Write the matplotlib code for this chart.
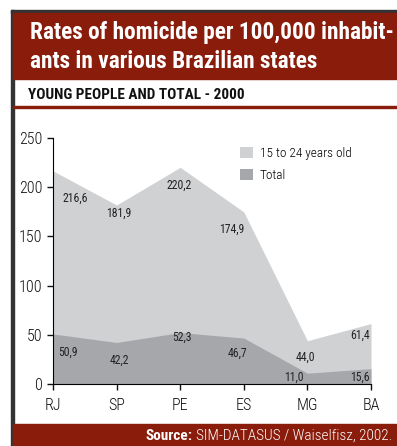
import matplotlib
matplotlib.use("Agg")
import matplotlib.pyplot as plt
from matplotlib.patches import Rectangle

# homicide rates per 100,000 inhabitants, year 2000
states = ["RJ", "SP", "PE", "ES", "MG", "BA"]
young = [216.6, 181.9, 220.2, 174.9, 44.0, 61.4]
total = [50.9, 42.2, 52.3, 46.7, 11.0, 15.6]
yticks = [0, 50, 100, 150, 200, 250]

# label offsets in points (dx, dy) from each point, text anchored left
young_off = [(6.5, -19.4), (-7.6, -5.8), (-10, -13), (-18, -12.2), (-8.6, -12.2), (-15, -8.6)]
total_off = [(3.6, -13), (-4.8, -12.6), (-5.8, -3.2), (-11.4, -10.8), (-16.8, -2.9), (-15, -6.1)]

W, H = 397, 446
light = "#d0d1d3"
dark = "#a6a7aa"
red = "#8a1c0b"
plt.rcParams["font.family"] = ["Roboto Condensed", "DejaVu Sans"]

fig = plt.figure(figsize=(W / 100, H / 100), dpi=100)
renderer = fig.canvas.get_renderer()

def px(x, y):
    return x / W, 1 - y / H

def fit(txt, width):
    # shrink/grow the font so the text spans the given pixel width
    w = txt.get_window_extent(renderer).width
    txt.set_fontsize(txt.get_fontsize() * width / w)

# frame, title band, sub-header and footer
fig.patches.append(Rectangle(px(11, H), 2.5 / W, (H - 10) / H, transform=fig.transFigure, color="#333333"))
fig.patches.append(Rectangle(px(11, 13), 1, 3 / H, transform=fig.transFigure, color="#333333"))
fig.patches.append(Rectangle(px(13, 79), 1, 66 / H, transform=fig.transFigure, color=red))
fig.patches.append(Rectangle(px(13, 108), 1, 1.8 / H, transform=fig.transFigure, color=red))
fig.patches.append(Rectangle(px(13, H), 1, 22 / H, transform=fig.transFigure, color=red))

t1 = fig.text(*px(30, 33), "Rates of homicide per 100,000 inhabit-", color="white",
              fontsize=17, fontweight="bold", va="center", ha="left")
fit(t1, 364)
t2 = fig.text(*px(30, 62), "ants in various Brazilian states", color="white",
              fontsize=t1.get_fontsize(), fontweight="bold", va="center", ha="left")
t3 = fig.text(*px(28, 95), "YOUNG PEOPLE AND TOTAL - 2000", color="#111111",
              fontsize=11, fontweight="bold", va="center", ha="left")
fit(t3, 217)

src = fig.text(*px(392, 436), "SIM-DATASUS / Waiselfisz, 2002.", color="white",
               fontsize=10, fontweight="light", va="center", ha="right")
fit(src, 198)
sx = src.get_window_extent(renderer).x0
fig.text((sx - 3) / W, 1 - 436 / H, "Source:", color="white",
         fontsize=src.get_fontsize(), fontweight="bold", va="center", ha="right")

l, b = px(53, 384)
r, t = px(371, 138)
ax = fig.add_axes([l, b, r - l, t - b])
x = list(range(len(states)))
ax.fill_between(x, 0, young, color=light, lw=0, label="15 to 24 years old")
ax.fill_between(x, 0, total, color=dark, lw=0, label="Total")

for i in x:
    ax.annotate(f"{young[i]:.1f}".replace(".", ","), (i, young[i]), xytext=young_off[i],
                textcoords="offset points", fontsize=8.5, color="#222222", ha="left", va="center")
    ax.annotate(f"{total[i]:.1f}".replace(".", ","), (i, total[i]), xytext=total_off[i],
                textcoords="offset points", fontsize=8.5, color="#222222", ha="left", va="center")

ax.set_xlim(0, len(states) - 1)
ax.set_ylim(0, 250)
ax.set_xticks(x)
ax.set_xticklabels(states, fontweight="light")
ax.set_yticks(yticks)
ax.set_yticklabels([str(v) for v in yticks], fontweight="light")
ax.spines["top"].set_visible(False)
ax.spines["right"].set_visible(False)
ax.tick_params(labelsize=11.5, length=4, width=1, colors="#111111")
ax.tick_params(axis="x", pad=6)
ax.patch.set_alpha(0)

leg = ax.legend(loc="upper left", bbox_to_anchor=(0.588, 0.965), frameon=False,
                prop={"size": 9.5, "weight": "light"},
                borderaxespad=0, borderpad=0, handlelength=1.0, handleheight=1.0,
                handletextpad=0.5, labelspacing=0.65)

fig.savefig("out.png", dpi=100)
